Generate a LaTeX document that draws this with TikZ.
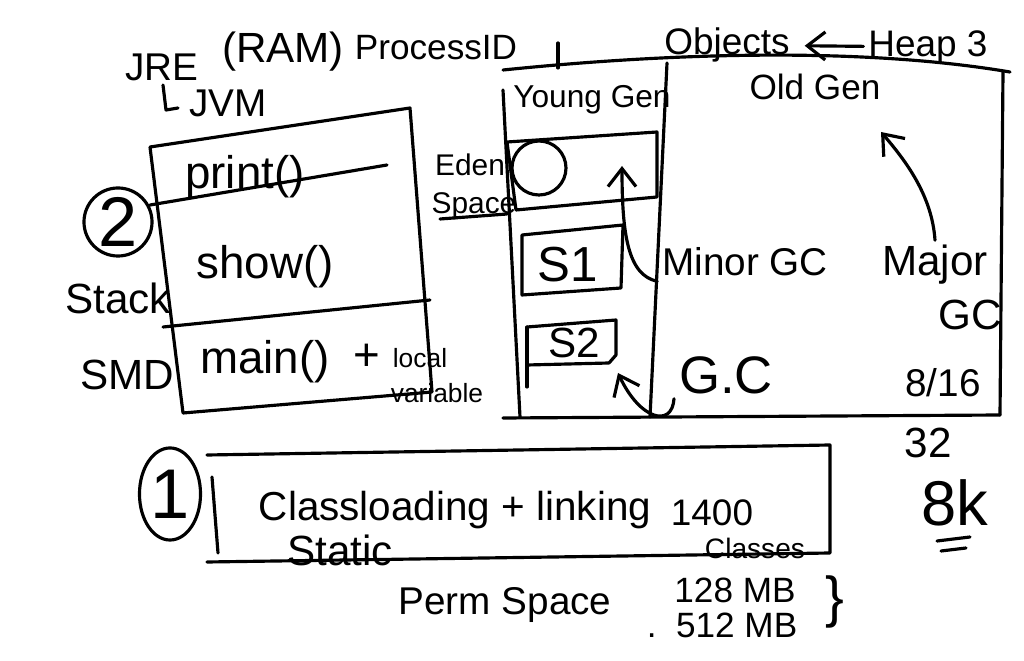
\documentclass[tikz,border=0pt]{standalone}
\usepackage{fontspec}
\setmainfont{Liberation Sans}
\usetikzlibrary{arrows.meta,positioning,shapes.geometric}
\newcommand{\fs}[1]{\fontsize{#1}{#1}\selectfont}

\begin{document}
\begin{tikzpicture}[
  x=0.01cm,y=-0.01cm,
  line width=0.9pt,line cap=round,line join=round,
  font=\fs{13},
  lbl/.style={inner sep=1pt},
  num/.style={draw,circle,inner sep=0pt,minimum size=0.68cm,font=\fs{20}},
  arr/.style={-{Straight Barb[length=1.8mm,width=2.8mm]}}
]
\useasboundingbox (0,0) rectangle (1024,661);

% title
\node[lbl,font=\fs{11}] (jre) at (162,67) {JRE};
\node[lbl,font=\fs{12}] (ram) at (283,52) {(RAM)};
\node[lbl,font=\fs{10}] (pid) at (436,48) {ProcessID};
\draw (163,85) -- (166,110) -- (178,108);
\node[lbl,font=\fs{11}] (jvm) at (228,103) {JVM};

% stack
\draw (150,147) -- (410,108) -- (432,392) -- (183,413) -- cycle;
\draw (150,205) -- (387,165);
\draw (163,327) -- (430,300);
\node[lbl] (print) at (245,177) {print()};
\node[lbl] (show) at (265,267) {show()};
\node[lbl] (main) at (265,362) {main()};
\node[lbl] (plus) at (367,357) {+};
\node[lbl,font=\fs{7.5}] (local) at (420,358) {local};
\node[lbl,font=\fs{7.5}] (variable) at (437,393) {variable};
\node[num] (two) at (118,222) {2};
\node[lbl,font=\fs{12}] (stack) at (118,298) {Stack};
\node[lbl,font=\fs{12}] (smd) at (127,375) {SMD};

% heap
\node[lbl,font=\fs{10.5}] (objects) at (727,45) {Objects};
\node[lbl,font=\fs{10.5}] (heap) at (928,47) {Heap 3};
\draw[arr,shorten >=1mm] (heap) -- (objects);
\draw (503,70) .. controls (650,55) and (850,45) .. (1010,72);
\draw (558,43) -- (558,68);
\draw (503,90) -- (520,417);
\draw (667,63) -- (650,417);
\draw (1003,72) -- (1000,415);
\draw (503,418) -- (1000,415);
\node[lbl,font=\fs{9}] (young) at (592,100) {Young Gen};
\node[lbl,font=\fs{10}] (old) at (815,87) {Old Gen};

% eden and survivors
\draw (507,142) -- (657,132) -- (657,197) -- (516,210) -- cycle;
\draw (539,168) circle (27);
\node[lbl,font=\fs{8.5}] (eden) at (470,165) {Eden};
\node[lbl,font=\fs{8.5}] (space) at (474,206) {Space};
\draw (440,219) -- (507,214);
\draw (522,235) -- (623,225) -- (621,288) -- (522,295) -- cycle;
\node[lbl,font=\fs{14}] (sone) at (568,265) {S1};
\draw (527,327) -- (616,320) -- (616,355) -- (609,363) -- (527,365);
\draw (527,327) -- (527,387);
\node[lbl,font=\fs{12}] (stwo) at (574,343) {S2};

% gc
\coordinate (edenin) at (622,166);
\coordinate (stwoin) at (618,373);
\coordinate (oldin) at (881,132);
\node[lbl,font=\fs{11}] (minor) at (745,262) {Minor GC};
\node[lbl,font=\fs{12}] (major) at (935,265) {Major};
\node[lbl,font=\fs{12}] (majorgc) at (970,315) {GC};
\node[lbl,font=\fs{15}] (gc) at (726,375) {G.C};
\node[lbl,font=\fs{11}] (size) at (943,383) {8/16};
\draw[arr] (minor.south west) .. controls (628,275) and (622,235) .. (edenin);
\draw[arr] (major.north) .. controls (932,195) and (905,160) .. (oldin);
\draw[arr] (gc.south west) .. controls (672,428) and (640,420) .. (stwoin);

% perm space
\draw (207,455) -- (830,445) -- (830,553) -- (207,562);
\draw (212,477) -- (218,553);
\node[draw,ellipse,inner sep=0pt,minimum width=0.61cm,minimum height=0.92cm,font=\fs{20}] (one) at (170,494) {1};
\node[lbl,font=\fs{11.5}] (load) at (455,510) {Classloading + linking};
\node[lbl,font=\fs{10.5}] (count) at (712,513) {1400};
\node[lbl,font=\fs{8}] (classes) at (755,548) {Classes};
\node[lbl,font=\fs{12}] (static) at (340,550) {Static};
\node[lbl,font=\fs{11}] (perm) at (505,605) {Perm Space};
\node[lbl,font=\fs{10}] (low) at (735,590) {128 MB};
\node[lbl,font=\fs{10}] (high) at (722,625) {.\ \ 512 MB};
\node[lbl,font=\fs{16}] (brace) at (835,602) {\}};
\node[lbl,font=\fs{12}] (thirty) at (928,443) {32};
\node[lbl,font=\fs{18}] (eightk) at (955,503) {8k};
\draw (937,541) -- (970,537);
\draw (941,551) -- (966,548);
\end{tikzpicture}
\end{document}
